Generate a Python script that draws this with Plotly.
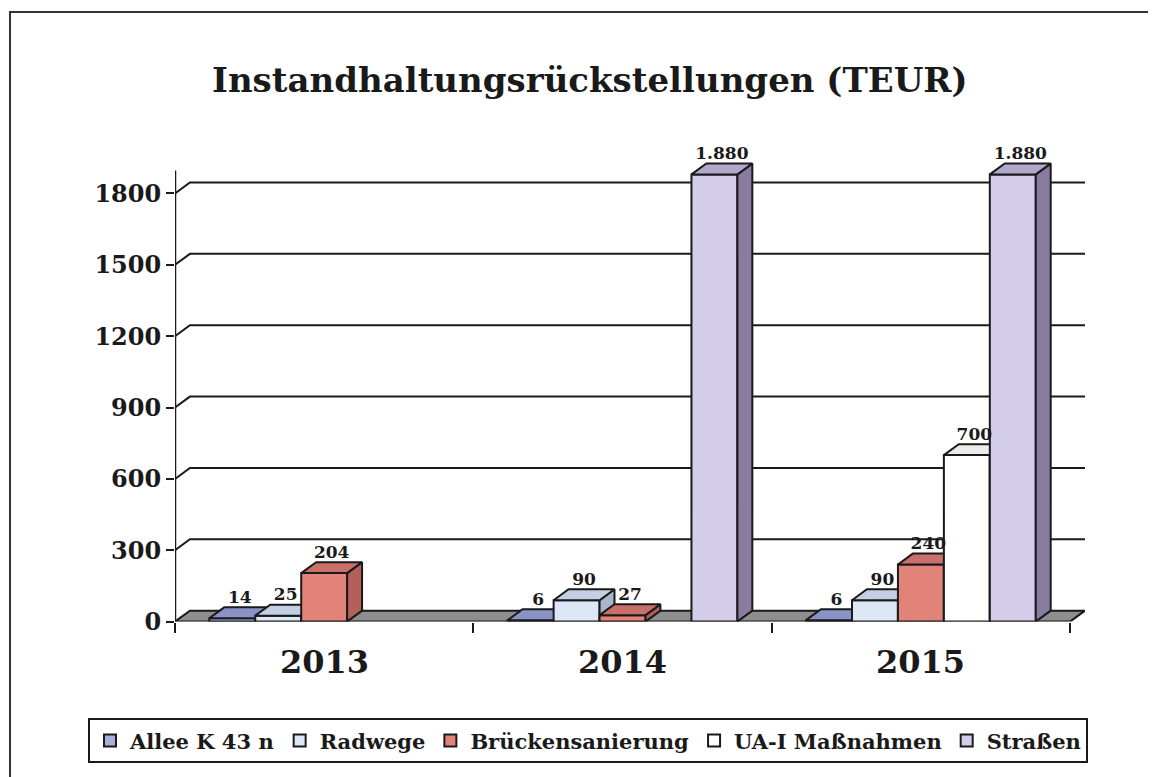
import plotly.graph_objects as go

# ---------------- data ----------------
years = ["2013", "2014", "2015"]
series_names = ["Allee K 43 n", "Radwege", "Brückensanierung", "UA-I Maßnahmen", "Straßen"]
allee = [14, 6, 6]
radwege = [25, 90, 90]
bruecken = [204, 27, 240]
ua_massnahmen = [None, None, 700]
strassen = [None, 1880, 1880]
y_ticks = [0, 300, 600, 900, 1200, 1500, 1800]
title_text = "Instandhaltungsrückstellungen (TEUR)"

series_values = [allee, radwege, bruecken, ua_massnahmen, strassen]
front_colors = ["#a6afdf", "#dde7f6", "#e2837a", "#ffffff", "#d3cdea"]
side_colors = ["#6e78aa", "#a9b6cc", "#b45f5a", "#d4d4d4", "#8a7ba0"]
top_colors = ["#8a93c6", "#c3cfe2", "#c9706a", "#ececec", "#b1a8cd"]

# ---------------- geometry ----------------
PAGE_MARGIN = 8            # default body margin of the html page
W = 1156 - 2 * PAGE_MARGIN
H = 777
H_EFF = 761                # effective drawn height observed in the render


def px(x):
    """screen x pixel -> paper coordinate"""
    return (x - PAGE_MARGIN) / W


def py(y):
    """screen y pixel -> paper coordinate"""
    return 1 - (y - PAGE_MARGIN) / H_EFF


DX = 0.05          # depth offset in category units
DY = 46            # depth offset in value units
X_RANGE = [-0.5, 2.5 + DX]
Y_RANGE = [0, 2000]
X_DOMAIN = [px(175), px(1085)]
Y_DOMAIN = [py(620), py(145.5)]
BAR_W = 0.154
n_series = len(series_values)
FONT = "DejaVu Serif"
INK = "#1a1a1a"

fig = go.Figure()

# floor
fig.add_trace(go.Scatter(
    x=[X_RANGE[0], 2.5, 2.5 + DX, X_RANGE[0] + DX, X_RANGE[0]],
    y=[0, 0, DY, DY, 0],
    mode="lines", fill="toself", fillcolor="#8e8e8e",
    line=dict(color=INK, width=2), hoverinfo="skip", showlegend=False,
    xaxis="x", yaxis="y"))

# back-wall gridlines with slanted connectors
gx, gy = [], []
for t in y_ticks[1:]:
    gx += [X_RANGE[0], X_RANGE[0] + DX, 2.5 + DX, None]
    gy += [t, t + DY, t + DY, None]
fig.add_trace(go.Scatter(x=gx, y=gy, mode="lines",
                         line=dict(color=INK, width=2),
                         hoverinfo="skip", showlegend=False, xaxis="x", yaxis="y"))

# vertical axis line
fig.add_trace(go.Scatter(x=[X_RANGE[0], X_RANGE[0]], y=[-35, y_ticks[-1] + 2.1 * DY],
                         mode="lines", line=dict(color=INK, width=2.5),
                         hoverinfo="skip", showlegend=False, xaxis="x", yaxis="y",
                         cliponaxis=False))

cat_pos = list(range(len(years)))
label_x, label_y, label_t = [], [], []
for k, vals in enumerate(series_values):
    xa = f"x{k + 2}"
    ya = f"y{k + 2}"
    off = -n_series / 2 * BAR_W + k * BAR_W
    fig.add_trace(go.Bar(
        x=cat_pos, y=vals, name=series_names[k], offset=off, width=BAR_W,
        marker=dict(color=front_colors[k], line=dict(color=INK, width=2)),
        xaxis=xa, yaxis=ya, showlegend=True))
    sx, sy, tx, ty = [], [], [], []
    for i, v in enumerate(vals):
        if v is None:
            continue
        l = i + off
        r = l + BAR_W
        sx += [r, r + DX, r + DX, r, r, None]
        sy += [0, DY, v + DY, v, 0, None]
        tx += [l, l + DX, r + DX, r, l, None]
        ty += [v, v + DY, v + DY, v, v, None]
        label_x.append((l + r) / 2 + DX / 2)
        label_y.append(v + DY)
        label_t.append(f"{v:,}".replace(",", "."))
    fig.add_trace(go.Scatter(x=sx, y=sy, mode="lines", fill="toself",
                             fillcolor=side_colors[k],
                             line=dict(color=INK, width=2),
                             hoverinfo="skip", showlegend=False, xaxis=xa, yaxis=ya))
    fig.add_trace(go.Scatter(x=tx, y=ty, mode="lines", fill="toself",
                             fillcolor=top_colors[k],
                             line=dict(color=INK, width=2),
                             hoverinfo="skip", showlegend=False, xaxis=xa, yaxis=ya))

# data labels on top
last = n_series + 1
fig.add_trace(go.Scatter(x=label_x, y=label_y, text=label_t, mode="text",
                         textposition="top center",
                         textfont=dict(family=FONT, size=17, color=INK, weight="bold"),
                         hoverinfo="skip", showlegend=False,
                         xaxis=f"x{last}", yaxis=f"y{last}", cliponaxis=False))

layout = dict(
    width=W, height=H,
    margin=dict(l=0, r=0, t=0, b=0),
    paper_bgcolor="white", plot_bgcolor="rgba(0,0,0,0)",
    font=dict(family=FONT, color=INK),
    showlegend=True,
    legend=dict(orientation="h", x=px(588), xanchor="center", y=py(739), yanchor="middle",
                bordercolor=INK, borderwidth=2, bgcolor="white",
                font=dict(family=FONT, size=21, color=INK, weight="bold"),
                traceorder="normal", itemwidth=30),
    xaxis=dict(domain=X_DOMAIN, range=X_RANGE, showgrid=False, zeroline=False, showline=False,
               tickmode="array", tickvals=[-0.5, 0.5, 1.5, 2.5], ticktext=["", "", "", ""],
               ticks="outside", ticklen=10, tickwidth=2, tickcolor=INK, fixedrange=True),
    yaxis=dict(domain=Y_DOMAIN, range=Y_RANGE, showgrid=False, zeroline=False, showline=False,
               tickmode="array", tickvals=y_ticks, ticktext=[str(t) for t in y_ticks],
               ticks="outside", ticklen=8, tickwidth=2, tickcolor=INK,
               tickfont=dict(family=FONT, size=24, color=INK, weight="bold"),
               fixedrange=True),
    annotations=[
        dict(text=title_text, x=px(590), y=py(80), xref="paper", yref="paper",
             xanchor="center", yanchor="middle", showarrow=False,
             font=dict(family=FONT, size=34, color=INK, weight="bold")),
    ] + [
        dict(text=yr, x=i, y=py(660), xref="x", yref="paper", xanchor="center",
             yanchor="middle", showarrow=False,
             font=dict(family=FONT, size=32, color=INK, weight="bold"))
        for i, yr in enumerate(years)
    ],
    shapes=[dict(type="rect", xref="paper", yref="paper", x0=px(10), y0=-0.1, x1=1.1,
                 y1=py(12), line=dict(color="#333333", width=2), layer="below")],
    barmode="overlay",
)
for k in range(2, last + 1):
    layout[f"xaxis{k}"] = dict(domain=X_DOMAIN, range=X_RANGE, overlaying="x", visible=False,
                               fixedrange=True)
    layout[f"yaxis{k}"] = dict(domain=Y_DOMAIN, range=Y_RANGE, overlaying="y", visible=False,
                               fixedrange=True)
fig.update_layout(**layout)

fig.write_html("out.html")
